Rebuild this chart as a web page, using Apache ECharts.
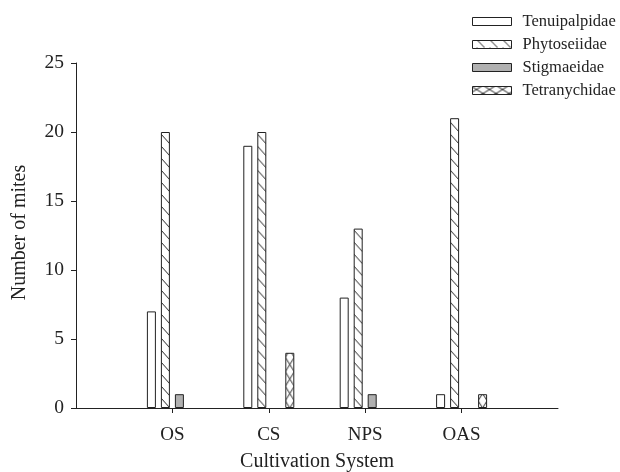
<!DOCTYPE html>
<html><head><meta charset="utf-8">
<script src="https://cdn.jsdelivr.net/npm/echarts@6/dist/echarts.min.js"></script>
<style>html,body{margin:0;padding:0;background:#fff}#c{width:620px;height:472px}</style>
</head><body><div id="c"></div>
<script>
const categories = ['OS', 'CS', 'NPS', 'OAS'];
const seriesNames = ['Tenuipalpidae', 'Phytoseiidae', 'Stigmaeidae', 'Tetranychidae'];
const tenuipalpidae = [7, 19, 8, 1];
const phytoseiidae = [20, 20, 13, 21];
const stigmaeidae = [1, 0, 1, 0];
const tetranychidae = [0, 4, 0, 1];
const yMin = 0, yMax = 25, yStep = 5;

const INK = '#222';
const FONT = '"Liberation Serif", "Times New Roman", serif';
const values = [tenuipalpidae, phytoseiidae, stigmaeidae, tetranychidae];
const paddedCats = [''].concat(categories, ['']);

function makeCanvas(w, h, draw) {
  const c = document.createElement('canvas');
  c.width = w; c.height = h;
  const g = c.getContext('2d');
  g.strokeStyle = INK; g.lineWidth = 1;
  draw(g, w, h);
  return c;
}
// bar hatch "\" : tile 9x12
const diagTile = makeCanvas(9, 12, (g) => {
  g.beginPath();
  g.moveTo(-1, 12 - 100 / 9); g.lineTo(10, 12 + 10 / 9);
  g.moveTo(-1, -100 / 9); g.lineTo(10, 10 / 9);
  g.stroke();
});
// bar crosshatch: tile 9x29 (two periods of 14.5)
const crossTile = makeCanvas(9, 29, (g) => {
  g.beginPath();
  for (let k = 0; k < 2; k++) {
    const y0 = k * 14.5;
    g.moveTo(0, y0); g.lineTo(9, y0 + 14.5);
    g.moveTo(9, y0); g.lineTo(0, y0 + 14.5);
  }
  g.stroke();
});
// legend patterns
const diagLegTile = makeCanvas(13, 8, (g) => {
  g.beginPath(); g.moveTo(-0.5, -0.5); g.lineTo(8.5, 8.5); g.stroke();
});
const crossLegTile = makeCanvas(13, 8, (g) => {
  g.beginPath();
  g.moveTo(0, 0); g.lineTo(13, 8);
  g.moveTo(13, 0); g.lineTo(0, 8);
  g.stroke();
});

function pat(img, x, y) { return { image: img, repeat: 'repeat', x: x, y: y }; }

const baseFills = ['#ffffff', pat(diagTile, 0, 0), '#b0b0b0', pat(crossTile, 0, 0)];

const legendLeft = 472, legendTop = 13, legendRow = 16, legendGap = 6, iconW = 39, iconH = 8;
function legendIconTop(r) { return legendTop + r * (legendRow + legendGap) + (legendRow - iconH) / 2; }
const legendFills = [
  '#ffffff',
  pat(diagLegTile, legendLeft, legendIconTop(1)),
  '#b0b0b0',
  pat(crossLegTile, legendLeft, legendIconTop(3))
];

const chart = echarts.init(document.getElementById('c'), null, { renderer: 'canvas' });

function seriesData(s, withStyle) {
  const out = ['-'];
  values[s].forEach((v, i) => {
    if (v === 0) { out.push('-'); return; }
    out.push(withStyle ? withStyle(v, i) : v);
  });
  out.push('-');
  return out;
}

const option = {
  animation: false,
  backgroundColor: '#fff',
  textStyle: { fontFamily: FONT, color: INK },
  grid: { left: 76, right: 62, top: 63, bottom: 64, containLabel: false, outerBoundsMode: 'none' },
  legend: {
    orient: 'vertical',
    left: legendLeft, top: legendTop,
    padding: 0,
    itemWidth: iconW, itemHeight: iconH, itemGap: legendGap,
    icon: 'rect',
    selectedMode: false,
    textStyle: { fontFamily: FONT, fontSize: 16.5, color: INK, lineHeight: legendRow, padding: [0, 0, 0, 6] },
    data: seriesNames.map((n, i) => ({ name: n, itemStyle: { color: legendFills[i], borderColor: INK, borderWidth: 1 } }))
  },
  xAxis: {
    type: 'category',
    data: paddedCats,
    boundaryGap: false,
    name: 'Cultivation System',
    nameLocation: 'middle',
    nameGap: 44,
    nameTextStyle: { fontFamily: FONT, fontSize: 20, color: INK },
    axisLine: { show: true, lineStyle: { color: INK, width: 1 } },
    axisTick: { show: true, length: 5, interval: (idx) => idx >= 1 && idx <= categories.length, lineStyle: { color: INK } },
    axisLabel: { fontFamily: FONT, fontSize: 19, color: INK, margin: 18, interval: 0 },
    splitLine: { show: false }
  },
  yAxis: {
    type: 'value',
    min: yMin, max: yMax, interval: yStep,
    name: 'Number of mites',
    nameLocation: 'middle',
    nameGap: 46,
    nameTextStyle: { fontFamily: FONT, fontSize: 20, color: INK, padding: [0, 0, 0, 6] },
    axisLine: { show: true, lineStyle: { color: INK, width: 1 } },
    axisTick: { show: true, length: 5, lineStyle: { color: INK } },
    axisLabel: { fontFamily: FONT, fontSize: 19.5, color: INK, margin: 12 },
    splitLine: { show: false }
  },
  series: seriesNames.map((n, s) => ({
    name: n,
    type: 'bar',
    barWidth: 9,
    barGap: (5 / 9 * 100) + '%',
    itemStyle: { color: baseFills[s], borderColor: INK, borderWidth: 1 },
    emphasis: { disabled: true },
    data: seriesData(s)
  }))
};
chart.setOption(option);

// align hatch patterns to each bar's left edge and the baseline
const baseY = chart.convertToPixel({ yAxisIndex: 0 }, 0);
const patched = seriesNames.map((n, s) => ({
  data: seriesData(s, (v, i) => {
    const tick = chart.convertToPixel({ xAxisIndex: 0 }, i + 1);
    const left = tick - 25.5 + s * 14;
    let fill = baseFills[s];
    if (s === 1) fill = pat(diagTile, left, baseY);
    if (s === 3) fill = pat(crossTile, left, baseY - 7.25);
    return { value: v, itemStyle: { color: fill } };
  })
}));
chart.setOption({ series: patched });
</script></body></html>
